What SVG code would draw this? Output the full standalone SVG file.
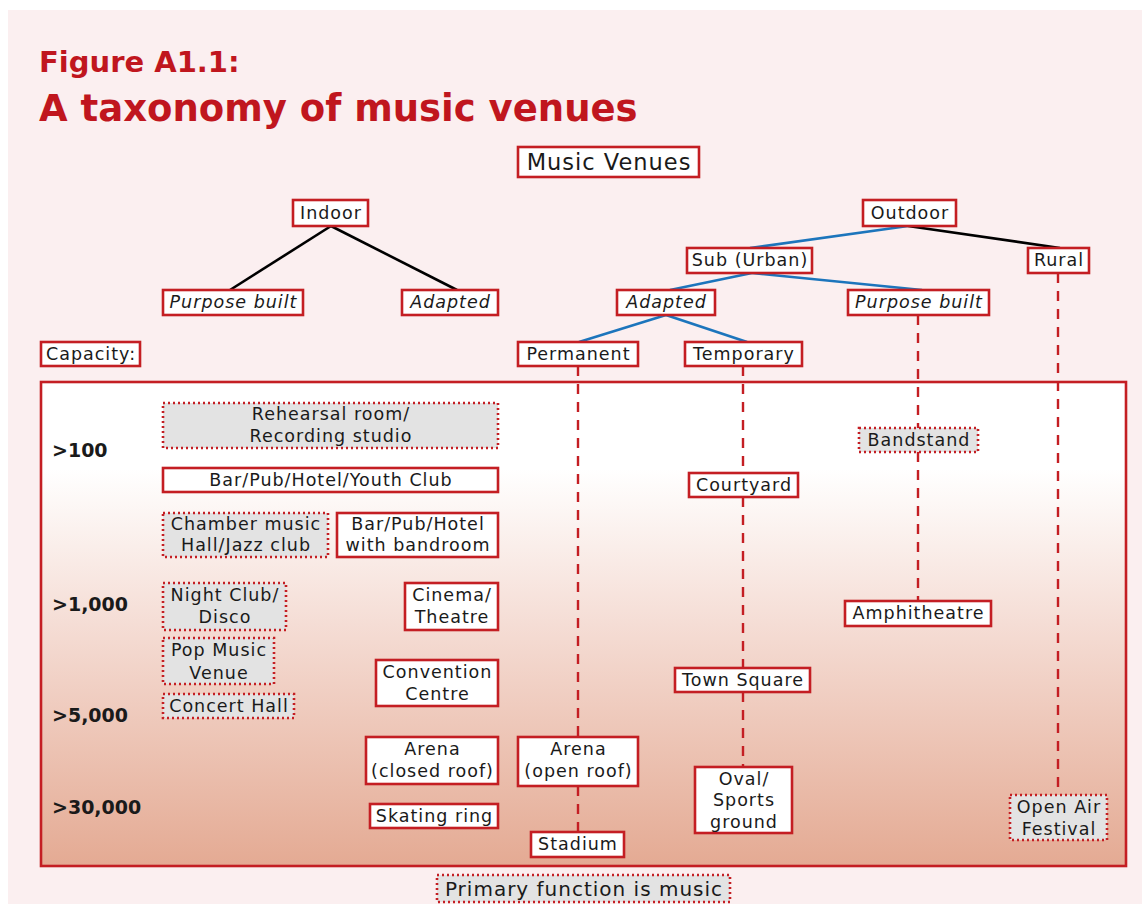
<svg xmlns="http://www.w3.org/2000/svg" width="1142" height="904" viewBox="0 0 1142 904">
<defs>
<linearGradient id="cap" x1="0" y1="0" x2="0" y2="1">
<stop offset="0" stop-color="#FFFFFF"/>
<stop offset="0.18" stop-color="#FFFFFF"/>
<stop offset="0.5" stop-color="#F5DDD5"/>
<stop offset="1" stop-color="#E4AA93"/>
</linearGradient>
<style>
.t{font-family:"DejaVu Sans","Liberation Sans",sans-serif;font-size:17.5px;letter-spacing:1px;fill:#1a1a1a;text-anchor:middle}
.i{font-style:italic}
.big{font-size:22.5px}
.leg{font-size:20px}
.n{fill:#FFFFFF;stroke:#C41E23;stroke-width:2.6}
.d{fill:#E3E3E3;stroke:#C41E23;stroke-width:2.6;stroke-dasharray:2 3}
.cap{font-family:"DejaVu Sans","Liberation Sans",sans-serif;font-size:19px;font-weight:bold;fill:#1a1a1a}
.bl{stroke:#1C75BC;stroke-width:2.6;fill:none}
.bk{stroke:#000;stroke-width:2.6;fill:none}
.rd{stroke:#C41E23;stroke-width:2.4;stroke-dasharray:10 8;fill:none}
</style>
</defs>
<rect x="8" y="10" width="1134" height="894" fill="#FBEFF0"/>
<g id="title" font-family="'DejaVu Sans','Liberation Sans',sans-serif" font-weight="bold" fill="#C0161E">
<text x="39" y="72" font-size="29">Figure A1.1:</text>
<text x="39" y="121" font-size="37">A taxonomy of music venues</text>
</g>
<rect id="capacity-panel" x="41" y="382" width="1085" height="484" fill="url(#cap)" stroke="#C41E23" stroke-width="2.6"/>
<g id="connectors">
<line class="bk" x1="331" y1="226" x2="230" y2="290"/>
<line class="bk" x1="331" y1="226" x2="457" y2="290"/>
<line class="bl" x1="908" y1="226" x2="750" y2="248"/>
<line class="bk" x1="908" y1="226" x2="1060" y2="248"/>
<line class="bl" x1="752" y1="273" x2="670" y2="290"/>
<line class="bl" x1="752" y1="273" x2="922" y2="290"/>
<line class="bl" x1="666" y1="315" x2="579" y2="342"/>
<line class="bl" x1="666" y1="315" x2="747" y2="342"/>
<line class="rd" x1="578" y1="366" x2="578" y2="737"/>
<line class="rd" x1="578" y1="786" x2="578" y2="832"/>
<line class="rd" x1="743" y1="366" x2="743" y2="473"/>
<line class="rd" x1="743" y1="497" x2="743" y2="668"/>
<line class="rd" x1="743" y1="692" x2="743" y2="767"/>
<line class="rd" x1="918" y1="315" x2="918" y2="428"/>
<line class="rd" x1="918" y1="452" x2="918" y2="601"/>
<line class="rd" x1="1058" y1="273" x2="1058" y2="795"/>
</g>
<g id="music-venues"><rect class="n" x="518" y="147" width="181" height="30"/><text class="t big" x="609" y="170">Music Venues</text></g>
<g id="indoor"><rect class="n" x="293" y="200" width="75" height="26"/><text class="t" x="331" y="219">Indoor</text></g>
<g id="outdoor"><rect class="n" x="863" y="200" width="93" height="26"/><text class="t" x="910" y="219">Outdoor</text></g>
<g id="sub-urban"><rect class="n" x="687" y="248" width="125" height="25"/><text class="t" x="750" y="266">Sub (Urban)</text></g>
<g id="rural"><rect class="n" x="1028" y="248" width="61" height="25"/><text class="t" x="1059" y="266">Rural</text></g>
<g id="indoor-purpose-built"><rect class="n" x="163" y="290" width="140" height="25"/><text class="t i" x="233.5" y="308">Purpose built</text></g>
<g id="indoor-adapted"><rect class="n" x="402" y="290" width="96" height="25"/><text class="t i" x="450.5" y="308">Adapted</text></g>
<g id="outdoor-adapted"><rect class="n" x="617" y="290" width="98" height="25"/><text class="t i" x="666.5" y="308">Adapted</text></g>
<g id="outdoor-purpose-built"><rect class="n" x="848" y="290" width="141" height="25"/><text class="t i" x="919" y="308">Purpose built</text></g>
<g id="capacity"><rect class="n" x="41" y="342" width="99" height="24"/><text class="t" x="91" y="360">Capacity:</text></g>
<g id="permanent"><rect class="n" x="518" y="342" width="120" height="24"/><text class="t" x="578.5" y="360">Permanent</text></g>
<g id="temporary"><rect class="n" x="685" y="342" width="117" height="24"/><text class="t" x="744" y="360">Temporary</text></g>
<g id="capacity-labels">
<text class="cap" x="52" y="457">&gt;100</text>
<text class="cap" x="52" y="611">&gt;1,000</text>
<text class="cap" x="52" y="722">&gt;5,000</text>
<text class="cap" x="52" y="814">&gt;30,000</text>
</g>
<g id="rehearsal"><rect class="d" x="163" y="403" width="335" height="45"/><text class="t" x="331" y="420">Rehearsal room/</text><text class="t" x="331" y="442">Recording studio</text></g>
<g id="bar-youth"><rect class="n" x="163" y="468" width="335" height="24"/><text class="t" x="331" y="486">Bar/Pub/Hotel/Youth Club</text></g>
<g id="chamber"><rect class="d" x="163" y="513" width="165" height="44"/><text class="t" x="246" y="530">Chamber music</text><text class="t" x="246" y="551">Hall/Jazz club</text></g>
<g id="bar-bandroom"><rect class="n" x="337" y="513" width="161" height="44"/><text class="t" x="418" y="530">Bar/Pub/Hotel</text><text class="t" x="418" y="551">with bandroom</text></g>
<g id="nightclub"><rect class="d" x="163" y="583" width="123" height="47"/><text class="t" x="225" y="601">Night Club/</text><text class="t" x="225" y="623">Disco</text></g>
<g id="cinema"><rect class="n" x="405" y="583" width="93" height="47"/><text class="t" x="452" y="601">Cinema/</text><text class="t" x="452" y="623">Theatre</text></g>
<g id="pop"><rect class="d" x="163" y="638" width="111" height="46"/><text class="t" x="219" y="656">Pop Music</text><text class="t" x="219" y="679">Venue</text></g>
<g id="convention"><rect class="n" x="376" y="660" width="122" height="46"/><text class="t" x="437.5" y="678">Convention</text><text class="t" x="437.5" y="700">Centre</text></g>
<g id="concert-hall"><rect class="d" x="163" y="694" width="131" height="24"/><text class="t" x="229" y="712">Concert Hall</text></g>
<g id="arena-closed"><rect class="n" x="366" y="737" width="132" height="47"/><text class="t" x="432.5" y="755">Arena</text><text class="t" x="432.5" y="777">(closed roof)</text></g>
<g id="skating"><rect class="n" x="370" y="804" width="128" height="24"/><text class="t" x="434.5" y="822">Skating ring</text></g>
<g id="arena-open"><rect class="n" x="518" y="737" width="120" height="49"/><text class="t" x="578.5" y="755">Arena</text><text class="t" x="578.5" y="777">(open roof)</text></g>
<g id="stadium"><rect class="n" x="531" y="832" width="93" height="25"/><text class="t" x="578" y="850">Stadium</text></g>
<g id="courtyard"><rect class="n" x="689" y="473" width="109" height="24"/><text class="t" x="744" y="491">Courtyard</text></g>
<g id="town-square"><rect class="n" x="675" y="668" width="135" height="24"/><text class="t" x="743" y="686">Town Square</text></g>
<g id="oval"><rect class="n" x="695" y="767" width="97" height="66"/><text class="t" x="744" y="785">Oval/</text><text class="t" x="744" y="806">Sports</text><text class="t" x="744" y="828">ground</text></g>
<g id="bandstand"><rect class="d" x="859" y="428" width="119" height="24"/><text class="t" x="919" y="446">Bandstand</text></g>
<g id="amphitheatre"><rect class="n" x="845" y="601" width="146" height="25"/><text class="t" x="918.5" y="619">Amphitheatre</text></g>
<g id="open-air"><rect class="d" x="1010" y="795" width="97" height="45"/><text class="t" x="1059" y="813">Open Air</text><text class="t" x="1059" y="835">Festival</text></g>
<g id="legend"><rect class="d" x="437" y="875" width="293" height="27"/><text class="t leg" x="584" y="896">Primary function is music</text></g>
</svg>
